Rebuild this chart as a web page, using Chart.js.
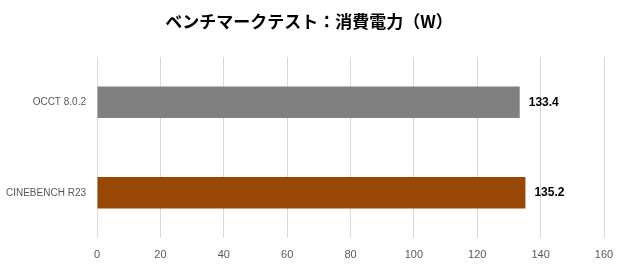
<!DOCTYPE html>
<html>
<head>
<meta charset="utf-8">
<script src="https://cdn.jsdelivr.net/npm/chart.js@4"></script>
<style>
  html, body { margin: 0; padding: 0; background: #fff; }
  #wrap { width: 620px; height: 270px; }
</style>
</head>
<body>
<div id="wrap"><canvas id="benchChart" width="620" height="270"></canvas></div>
<script>
const chartTitle = 'ベンチマークテスト：消費電力（W）';
const categories = ['OCCT 8.0.2', 'CINEBENCH R23'];
const powerValues = [133.4, 135.2];
const barColors = ['#808080', '#974706'];
const xTicks = [0, 20, 40, 60, 80, 100, 120, 140, 160];

const labelFont = '"Liberation Sans", sans-serif';

// title and value labels are drawn by hand
const labelPlugin = {
    id: 'labelPlugin',
    afterDraw(chart) {
        const ctx = chart.ctx;
        ctx.save();
        ctx.fillStyle = '#000';
        ctx.font = 'bold 17px "Noto Sans CJK JP", sans-serif';
        ctx.textAlign = 'center';
        ctx.textBaseline = 'middle';
        ctx.fillText(chartTitle, 309, 22);

        const meta = chart.getDatasetMeta(0);
        ctx.font = 'bold 12px "Liberation Sans", sans-serif';
        ctx.textAlign = 'left';
        meta.data.forEach((bar, i) => {
            ctx.fillText(powerValues[i].toFixed(1), bar.x + 9, bar.y);
        });
        ctx.restore();
    }
};

new Chart(document.getElementById('benchChart'), {
    type: 'bar',
    data: {
        labels: categories,
        datasets: [{
            data: powerValues,
            backgroundColor: barColors,
            borderWidth: 0,
            barPercentage: 0.35,
            categoryPercentage: 1
        }]
    },
    options: {
        indexAxis: 'y',
        responsive: false,
        animation: false,
        layout: { padding: { top: 57, right: 16, left: 0, bottom: 0 } },
        plugins: {
            legend: { display: false },
            title: { display: false },
            tooltip: { enabled: false }
        },
        scales: {
            x: {
                min: xTicks[0],
                max: xTicks[xTicks.length - 1],
                afterBuildTicks: s => { s.ticks = xTicks.map(v => ({ value: v })); },
                afterFit: s => { s.height = 32; s.paddingRight = 0; s.paddingLeft = 0; },
                grid: { color: '#d9d9d9', drawTicks: false },
                border: { display: false },
                ticks: { color: '#595959', padding: 10, font: { size: 11, family: labelFont } }
            },
            y: {
                afterFit: s => { s.width = 97; },
                grid: { display: false, drawTicks: false },
                border: { display: false },
                ticks: { color: '#595959', padding: 11, font: { size: 10, family: labelFont } }
            }
        }
    },
    plugins: [labelPlugin]
});
</script>
</body>
</html>
